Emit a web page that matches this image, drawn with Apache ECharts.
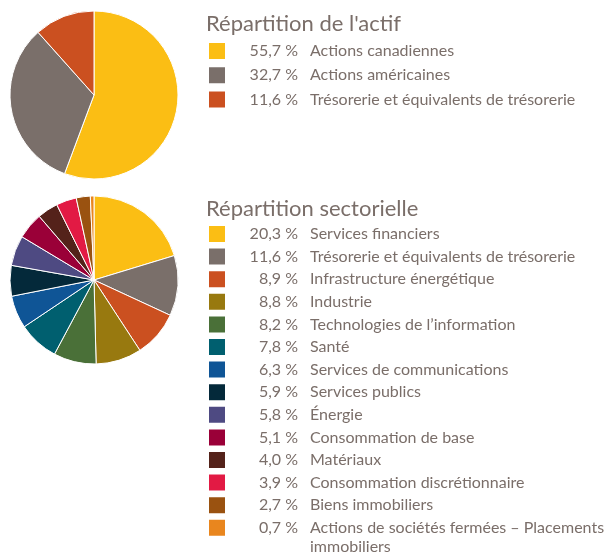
<!DOCTYPE html>
<html>
<head>
<meta charset="utf-8">
<script src="https://cdn.jsdelivr.net/npm/echarts@6/dist/echarts.min.js"></script>
<style>
html,body{margin:0;padding:0;background:#fff;}
#c{width:614px;height:554px;}
</style>
</head>
<body>
<div id="c"></div>
<script>
// ---- Data ----
const assetTitle = "Répartition de l'actif";
const assetLabels = ['Actions canadiennes', 'Actions américaines', 'Trésorerie et équivalents de trésorerie'];
const assetValues = [55.7, 32.7, 11.6];
const assetColors = ['#FBBE14', '#7A6F6A', '#CB5020'];

const sectorTitle = 'Répartition sectorielle';
const sectorLabels = [
  'Services financiers',
  'Trésorerie et équivalents de trésorerie',
  'Infrastructure énergétique',
  'Industrie',
  'Technologies de l\u2019information',
  'Santé',
  'Services de communications',
  'Services publics',
  'Énergie',
  'Consommation de base',
  'Matériaux',
  'Consommation discrétionnaire',
  'Biens immobiliers',
  'Actions de sociétés fermées – Placements'
];
const sectorLabelContinuation = 'immobiliers';
const sectorValues = [20.3, 11.6, 8.9, 8.8, 8.2, 7.8, 6.3, 5.9, 5.8, 5.1, 4.0, 3.9, 2.7, 0.7];
const sectorColors = ['#FBBE14', '#7A6F6A', '#CB5020', '#98790F', '#4A7038', '#005F6F', '#0F5596',
  '#04293A', '#4E4A82', '#9A0038', '#54221A', '#E21A44', '#9A5210', '#E9861E'];

// ---- Build ----
const TEXT = '#7a6e69';
const FONT = 'Lato';
const FSIZE = 16;
const PCT_COL = 67;
const measureCtx = document.createElement('canvas').getContext('2d');
measureCtx.font = 'normal ' + FSIZE + 'px ' + FONT;

const lookup = {};
const assetData = assetLabels.map((l, i) => {
  const name = 'a' + i;
  lookup[name] = { label: l, v: assetValues[i] };
  return { name, value: assetValues[i], itemStyle: { color: assetColors[i] } };
});
const sectorData = sectorLabels.map((l, i) => {
  const name = 's' + i;
  lookup[name] = { label: l, v: sectorValues[i] };
  return { name, value: sectorValues[i], itemStyle: { color: sectorColors[i] } };
});
const fmtPct = v => v.toFixed(1).replace('.', ',') + '\u00a0%';

const rich = {
  n: { fontFamily: FONT, fontSize: FSIZE, lineHeight: 18, color: TEXT, padding: [0, 0, 0, 12] }
};
// one right-aligned percent style per item (left padding from measured width)
function pctToken(name) {
  const t = fmtPct(lookup[name].v);
  const w = measureCtx.measureText(t).width;
  const key = 'p' + name;
  rich[key] = { fontFamily: FONT, fontSize: FSIZE, lineHeight: 18, color: TEXT,
    padding: [0, 0, 0, Math.max(0, PCT_COL - w)] };
  return '{' + key + '|' + t + '}';
}
const legendBase = {
  orient: 'vertical', left: 207, padding: 0, itemWidth: 18, itemHeight: 18,
  icon: 'rect', selectedMode: false, height: 340,
  formatter: name => pctToken(name) + '{n|' + lookup[name].label + '}',
  textStyle: { rich: rich, color: TEXT }
};
Object.keys(lookup).forEach(k => pctToken(k));

const pieBase = {
  type: 'pie', radius: 84, startAngle: 90, clockwise: true,
  label: { show: false }, labelLine: { show: false },
  itemStyle: { borderColor: '#fff', borderWidth: 1 },
  emphasis: { disabled: true }, animation: false, silent: true
};

const chart = echarts.init(document.getElementById('c'), null, { renderer: 'canvas' });
chart.setOption({
  animation: false,
  title: [
    { text: assetTitle, left: 206, top: 13, padding: 0,
      textStyle: { fontFamily: FONT, fontSize: 22, fontWeight: 'normal', color: TEXT, lineHeight: 22 } },
    { text: sectorTitle, left: 206, top: 198, padding: 0,
      textStyle: { fontFamily: FONT, fontSize: 22, fontWeight: 'normal', color: TEXT, lineHeight: 22 } }
  ],
  legend: [
    Object.assign({}, legendBase, { top: 41, itemGap: 4.2, data: assetData.map(d => d.name) }),
    Object.assign({}, legendBase, { top: 224, itemGap: 2.6, data: sectorData.map(d => d.name) })
  ],
  series: [
    Object.assign({}, pieBase, { center: [94, 95], data: assetData }),
    Object.assign({}, pieBase, { center: [94, 280], data: sectorData })
  ],
  graphic: [
    { type: 'text', left: 310, top: 539,
      style: { text: sectorLabelContinuation, font: 'normal ' + FSIZE + 'px ' + FONT, fill: TEXT } }
  ]
});
</script>
</body>
</html>
